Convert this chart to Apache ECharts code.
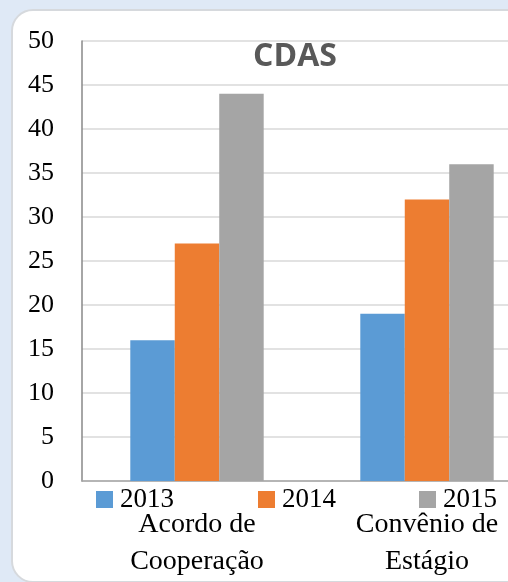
<!DOCTYPE html>
<html lang="pt">
<head>
    <meta charset="UTF-8">
    <title>CDAS</title>
    <script src="https://cdn.jsdelivr.net/npm/echarts@6/dist/echarts.min.js"></script>
    <style>
        html, body { margin: 0; padding: 0; }
        body { width: 508px; height: 582px; background: #dfe9f6; position: relative; overflow: hidden; }
        .panel {
            position: absolute; left: 11px; top: 9px; width: 540px; height: 574px;
            background: #fff; border: 2px solid #d6d9dd; border-radius: 22px;
            box-sizing: border-box;
        }
        #main { position: absolute; left: 0; top: 0; width: 508px; height: 582px; }
    </style>
</head>
<body>
<div class="panel"></div>
<div id="main"></div>
<script type="text/javascript">
    // dados do grafico
    var categorias = ['Acordo de\nCooperação', 'Convênio de\nEstágio'];
    var anos = ['2013', '2014', '2015'];
    var v2013 = [16, 19];
    var v2014 = [27, 32];
    var v2015 = [44, 36];
    var cores = ['#5b9bd5', '#ed7d31', '#a5a5a5'];
    var valores = [v2013, v2014, v2015];

    var serif = 'Liberation Serif';
    var legendLeft = [96, 258, 419];

    var myChart = echarts.init(document.getElementById('main'));

    var legends = [];
    for (var i = 0; i < anos.length; i++) {
        legends.push({
            data: [anos[i]],
            left: legendLeft[i],
            top: 486,
            icon: 'rect',
            itemWidth: 17,
            itemHeight: 17,
            itemGap: 0,
            padding: 0,
            textStyle: { fontFamily: serif, fontSize: 27, color: '#000', padding: [0, 0, 0, 2] }
        });
    }

    var series = [];
    for (var i = 0; i < anos.length; i++) {
        series.push({
            name: anos[i],
            type: 'bar',
            data: valores[i],
            barGap: '0%',
            barCategoryGap: '42%',
            itemStyle: { color: cores[i] },
            emphasis: { disabled: true }
        });
    }

    var option = {
        animation: false,
        color: cores,
        title: {
            text: 'CDAS',
            left: 290,
            top: 36,
            textAlign: 'center',
            textStyle: { fontFamily: 'Open Sans', fontWeight: 'bold', fontSize: 32, color: '#595959' }
        },
        legend: legends,
        grid: {
            left: 82,
            top: 41,
            width: 460,
            height: 440,
            containLabel: false,
            outerBoundsMode: 'none'
        },
        xAxis: {
            type: 'category',
            data: categorias,
            axisTick: { show: false },
            axisLine: { lineStyle: { color: '#a6a6a6', width: 1.5 } },
            axisLabel: {
                fontFamily: serif,
                fontSize: 28,
                color: '#000',
                lineHeight: 37,
                margin: 25,
                interval: 0
            }
        },
        yAxis: {
            type: 'value',
            min: 0,
            max: 50,
            interval: 5,
            axisLine: { show: true, lineStyle: { color: '#888', width: 1.5 } },
            axisTick: { show: false },
            splitLine: { lineStyle: { color: '#d9d9d9', width: 1.5 } },
            axisLabel: {
                fontFamily: serif,
                fontSize: 26,
                color: '#000',
                margin: 28
            }
        },
        series: series
    };
    myChart.setOption(option);
</script>
</body>
</html>
